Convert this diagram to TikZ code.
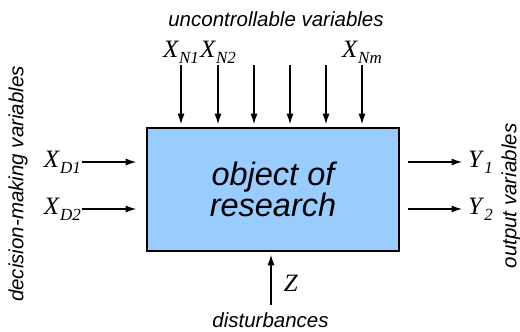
\documentclass[tikz,border=0pt]{standalone}
\usepackage{fontspec}
\setmainfont{Liberation Serif}
\setsansfont{Liberation Sans}
\usepackage{xcolor}
\usetikzlibrary{arrows.meta}
\definecolor{boxblue}{RGB}{153,204,255}
\newcommand{\sym}[2]{\textit{#1}\raisebox{-0.25em}{\fontsize{17}{17}\selectfont\textit{#2}}}

\begin{document}
\begin{tikzpicture}[x=1pt, y=-1pt,
  every node/.style={font=\fontsize{20.5}{24}\selectfont\sffamily\itshape},
  sig/.style={-{Latex[length=10.5pt,width=7pt]}, line width=1.1pt},
  var/.style={font=\fontsize{25}{28}\selectfont, inner sep=1pt}]
  \useasboundingbox (0,0) rectangle (520,332);
  \node[draw=black, line width=1.6pt, fill=boxblue, minimum width=252pt,
        minimum height=123pt, align=center,
        font=\fontsize{32.5}{31.5}\selectfont\sffamily\itshape] (box) at (273,189.5) {object of\\research};
  \foreach \x [count=\i] in {181,218,254,290,326,362}{
    \coordinate (n\i) at (\x,65);
    \draw[sig, shorten >=3pt] (n\i) -- (n\i |- box.north);
  }
  \node[var, above] (xn1) at (n1) {\sym{X}{N1}};
  \node[var, above] (xn2) at (n2) {\sym{X}{N2}};
  \node[var, above] (xnm) at (n6) {\sym{X}{Nm}};
  \foreach \y/\s [count=\i] in {162/D1,209/D2}{
    \coordinate (d\i) at (82,\y);
    \node[var, left] (xd\i) at (d\i) {\sym{X}{\s}};
    \draw[sig, shorten >=10pt] (d\i) -- (d\i -| box.west);
    \coordinate (y\i) at (462,\y);
    \draw[sig, shorten <=8pt] (y\i -| box.east) -- (y\i);
    \node[var, right, xshift=5pt] (yl\i) at (y\i) {\sym{Y}{\i}};
  }
  \coordinate (z) at (271,305);
  \draw[sig, shorten >=3pt] (z) -- (z |- box.south);
  \node[var] (zl) at (291,283) {\textit{Z}};
  \node (dist) at (270.5,320) {disturbances};
  \node (unc) at (276,19) {uncontrollable variables};
  \node[rotate=90] (dec) at (18,184) {decision-making variables};
  \node[rotate=90] (outv) at (511,196) {output variables};
\end{tikzpicture}
\end{document}
